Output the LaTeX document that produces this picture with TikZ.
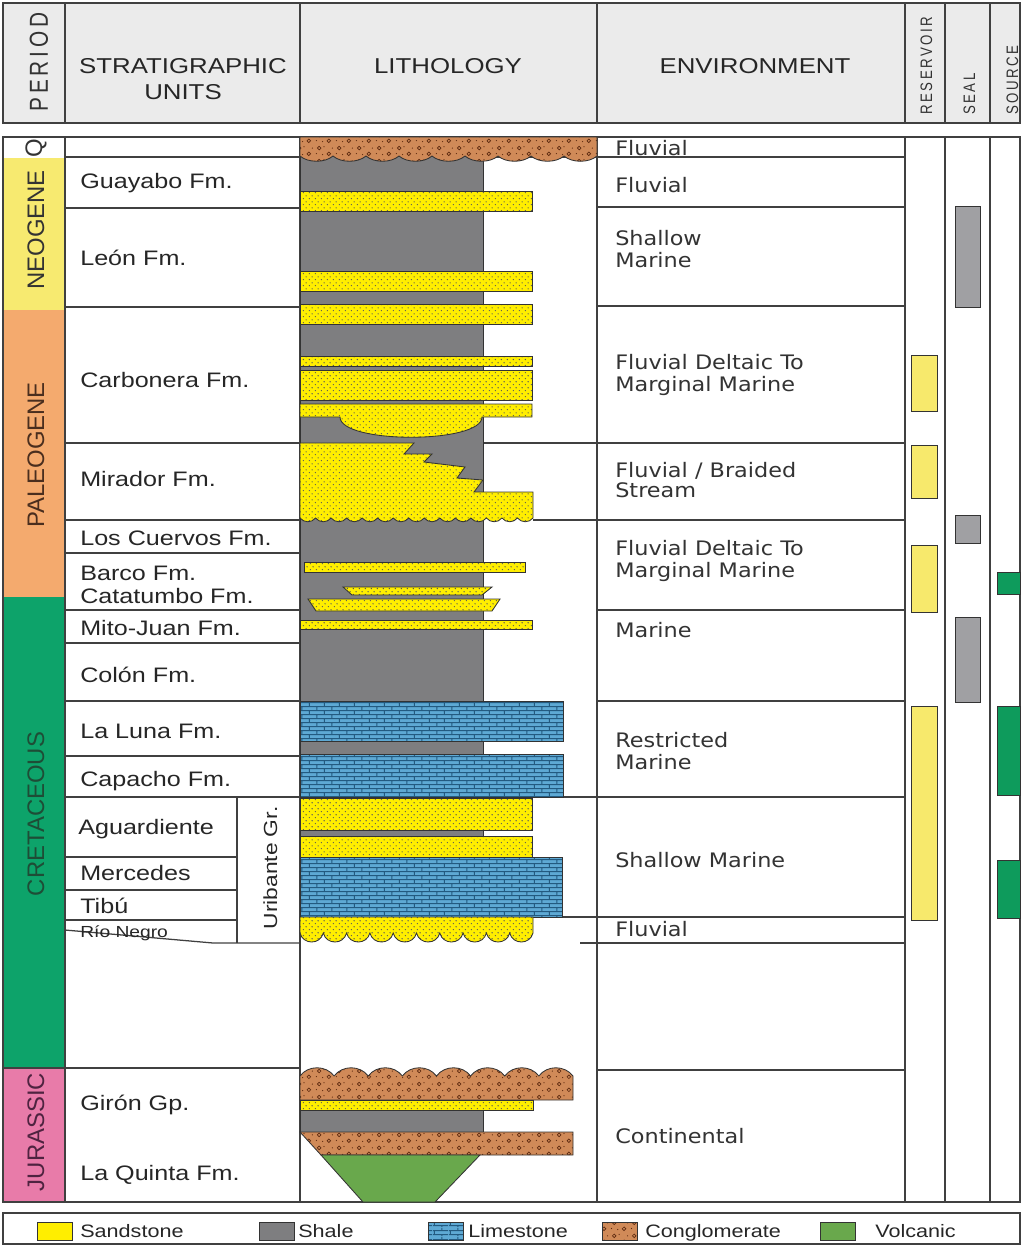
\documentclass[tikz,border=0pt]{standalone}
\usepackage{fontspec}
\setmainfont{Liberation Sans}
\newfontfamily\unitfont{Liberation Sans}[FakeStretch=1.2]
\newfontfamily\envfont{DejaVu Sans}[FakeStretch=1.12]
\newfontfamily\capfont{Liberation Sans}[FakeStretch=0.8,LetterSpace=15]
\usetikzlibrary{patterns.meta}

\definecolor{headgray}{HTML}{EBEBEB}
\definecolor{neoyellow}{HTML}{F7EA70}
\definecolor{paleorange}{HTML}{F4AA6E}
\definecolor{cretgreen}{HTML}{0DA36A}
\definecolor{jurpink}{HTML}{E87BA9}
\definecolor{paletext}{HTML}{4A2E1E}
\definecolor{cretext}{HTML}{1E4D36}
\definecolor{jurtext}{HTML}{4F2340}
\definecolor{sandyellow}{HTML}{FFEE00}
\definecolor{shalegray}{HTML}{7E7E80}
\definecolor{limeblue}{HTML}{5EA9D4}
\definecolor{limegrout}{HTML}{235A80}
\definecolor{conglbrown}{HTML}{D08A58}
\definecolor{conglink}{HTML}{5E2A10}
\definecolor{volcgreen}{HTML}{69A84C}
\definecolor{respale}{HTML}{F7E96C}
\definecolor{sealgray}{HTML}{A0A0A3}
\definecolor{srcgreen}{HTML}{0E9B5C}

\tikzdeclarepattern{
  name=sanddots,
  type=uncolored,
  bounding box={(0pt,0pt) and (4.4pt,4.4pt)},
  tile size={(4.4pt,4.4pt)},
  code={
    \fill (1.1pt,1.1pt) circle [radius=0.55pt];
    \fill (3.3pt,3.3pt) circle [radius=0.55pt];
  }
}
\tikzdeclarepattern{
  name=limebricks,
  type=uncolored,
  bounding box={(0pt,0pt) and (11pt,6pt)},
  tile size={(11pt,6pt)},
  code={
    \draw[line width=0.7pt] (0pt,1pt) -- (11pt,1pt) (0pt,4pt) -- (11pt,4pt)
      (1pt,1pt) -- (1pt,4pt) (6.5pt,4pt) -- (6.5pt,6pt) (6.5pt,0pt) -- (6.5pt,1pt);
  }
}
\tikzdeclarepattern{
  name=conglpebbles,
  type=uncolored,
  bounding box={(0pt,0pt) and (14pt,9pt)},
  tile size={(14pt,9pt)},
  code={
    \draw[line width=0.5pt] (3pt,6.5pt) circle [radius=1.3pt] (10pt,2.3pt) circle [radius=1.3pt];
    \fill (6.5pt,7.5pt) circle [radius=0.45pt] (1pt,2.5pt) circle [radius=0.45pt]
      (12.5pt,6.5pt) circle [radius=0.45pt] (5.5pt,1.8pt) circle [radius=0.45pt];
  }
}

\tikzset{
  frame/.style={draw=black!75, line width=0.9pt},
  bed/.style={draw=black!80, line width=0.6pt},
  sand/.style={bed, preaction={fill=sandyellow}, pattern=sanddots, pattern color=black!65},
  lime/.style={bed, preaction={fill=limeblue}, pattern=limebricks, pattern color=limegrout},
  congl/.style={bed, preaction={fill=conglbrown}, pattern=conglpebbles, pattern color=conglink},
  shale/.style={bed, fill=shalegray},
  volc/.style={bed, fill=volcgreen},
  headtext/.style={anchor=base, inner sep=0pt, text=black!85, font={\unitfont\fontsize{15.3pt}{18pt}\selectfont}},
  headcap/.style={rotate=90, anchor=base west, inner sep=0pt, text=black!80, font={\capfont\fontsize{11.8pt}{13pt}\selectfont}},
  period/.style={rotate=90, inner sep=0pt, text=black!80, font={\fontsize{17pt}{20pt}\selectfont}},
  unit/.style={anchor=base west, inner sep=0pt, text=black!85, font={\unitfont\fontsize{14.9pt}{17pt}\selectfont}},
  env/.style={anchor=base west, inner sep=0pt, text=black!80, font={\envfont\fontsize{14.2pt}{17pt}\selectfont}},
  legtext/.style={anchor=base west, inner sep=0pt, text=black!85, font={\unitfont\fontsize{12.8pt}{15pt}\selectfont}},
}

\begin{document}
\begin{tikzpicture}[x=0.025cm, y=-0.025cm]
\useasboundingbox (0,0) rectangle (1023,1245);

% header
\draw[frame, fill=headgray] (3,3) rectangle (1020,123);
\foreach \x in {65,300,597,905,945,990} \draw[frame] (\x,3) -- (\x,123);
\node[headcap, anchor=base, font={\capfont\fontsize{18.5pt}{20pt}\selectfont}] (hperiod) at (48,62) {PERIOD};
\node[headtext] (hstrat) at (183,73) {STRATIGRAPHIC};
\node[headtext] (hunits) at (183,99) {UNITS};
\node[headtext] (hlith) at (448,73) {LITHOLOGY};
\node[headtext] (henv) at (755,73) {ENVIRONMENT};
\node[headcap] (hres) at (932,115) {RESERVOIR};
\node[headcap] (hseal) at (975,115) {SEAL};
\node[headcap] (hsource) at (1018,115) {SOURCE};

% periods
\fill[neoyellow] (3,158) rectangle (65,310);
\fill[paleorange] (3,310) rectangle (65,597);
\fill[cretgreen] (3,597) rectangle (65,1068);
\fill[jurpink] (3,1068) rectangle (65,1202);

% grid of the body
\draw[frame] (3,137) rectangle (1020,1202);
\foreach \x in {65,300,597,905,945,990} \draw[frame] (\x,137) -- (\x,1202);
\foreach \y in {157,208,307,443,520,553,610,643,701,756,797} \draw[frame] (65,\y) -- (300,\y);
\foreach \y in {857,890,920} \draw[frame] (65,\y) -- (237,\y);
\draw[frame] (237,797) -- (237,943);
\draw[frame] (65,930) -- (213,943) -- (300,943);
\draw[frame] (3,1068) -- (300,1068);
\foreach \y in {157,207,306,443,520,610,701,797,917,943,1070} \draw[frame] (597,\y) -- (905,\y);
\draw[frame] (483,157) -- (597,157);
\draw[frame] (483,443) -- (597,443);
\draw[frame] (533,520) -- (597,520);
\draw[frame] (563,797) -- (597,797);
\draw[frame] (563,917) -- (597,917);
\draw[frame] (580,943) -- (597,943);

% lithology
\draw[shale] (300,156) rectangle (483,917);
\draw[congl] (300,137) -- (597,137) -- (597,156)
  \foreach \i in {0,...,8} { .. controls ({597-33*\i-8},163) and ({597-33*\i-25},163) .. ({597-33*\i-33},156) } -- cycle;
\draw[sand] (300,191) rectangle (532,211);
\draw[sand] (300,271) rectangle (532,291);
\draw[sand] (300,304) rectangle (532,324);
\draw[sand] (300,356) rectangle (532,366);
\draw[sand] (300,370) rectangle (532,400);
\draw[sand] (300,404) -- (532,404) -- (532,417) -- (482,417)
  .. controls (482,444) and (340,444) .. (340,417) -- (300,417) -- cycle;
\draw[sand] (300,443) -- (414,443) -- (404,454) -- (432,454) -- (424,462) -- (465,467)
  -- (457,478) -- (483,480) -- (474,492) -- (533,492) -- (533,518)
  \foreach \i in {0,...,14} { .. controls ({533-15.533*\i-4},523) and ({533-15.533*\i-11.5},523) .. ({533-15.533*(\i+1)},518) } -- cycle;
\draw[sand] (304,562) rectangle (525,572);
\draw[sand] (343,587) -- (492,587) -- (482,595) -- (352,595) -- cycle;
\draw[sand] (308,599) -- (500,599) -- (492,611) -- (316,611) -- cycle;
\draw[sand] (300,620) rectangle (532,629);
\draw[lime] (300,701) rectangle (563,741);
\draw[lime] (300,754) rectangle (563,797);
\draw[sand] (300,798) rectangle (532,830);
\draw[sand] (300,836) rectangle (532,857);
\draw[lime] (300,857) rectangle (562,917);
\draw[sand] (300,917) -- (533,917) -- (533,933)
  \foreach \i in {0,...,9} { .. controls ({533-23.3*\i-3},945) and ({533-23.3*\i-20.3},945) .. ({533-23.3*(\i+1)},933) } -- cycle;
\draw[congl] (300,1076)
  \foreach \i in {0,...,7} { .. controls ({300+34.125*\i+8},1065) and ({300+34.125*\i+26},1065) .. ({300+34.125*(\i+1)},1076) }
  -- (573,1100) -- (300,1100) -- cycle;
\draw[sand] (300,1100) rectangle (533,1110);
\draw[shale] (300,1110) rectangle (483,1132);
\draw[congl] (300,1132) -- (573,1132) -- (573,1155) -- (321,1155) -- cycle;
\draw[volc] (321,1155) -- (480,1155) -- (435,1202) -- (363,1202) -- cycle;

% reservoir, seal, source
\foreach \a/\b in {355/411,445/498,545/612,706/920} \draw[bed, fill=respale] (911,\a) rectangle (937,\b);
\foreach \a/\b in {206/307,515/543,617/702} \draw[bed, fill=sealgray] (955,\a) rectangle (980,\b);
\foreach \a/\b in {572/594,706/795,860/918} \draw[bed, fill=srcgreen] (997,\a) rectangle (1020,\b);

% period labels
\node[period] (q) at (36,148) {Q};
\node[period] (neogene) at (36,230) {NEOGENE};
\node[period, text=paletext] (paleogene) at (36,455) {PALEOGENE};
\node[period, text=cretext] (cretaceous) at (36,814) {CRETACEOUS};
\node[period, text=jurtext] (jurassic) at (36,1132) {JURASSIC};

% units
\node[unit] (guayabo) at (80,188) {Guayabo Fm.};
\node[unit] (leon) at (80,265) {León Fm.};
\node[unit] (carbonera) at (80,387) {Carbonera Fm.};
\node[unit] (mirador) at (80,486) {Mirador Fm.};
\node[unit] (cuervos) at (80,545) {Los Cuervos Fm.};
\node[unit] (barco) at (80,580) {Barco Fm.};
\node[unit] (catatumbo) at (80,603) {Catatumbo Fm.};
\node[unit] (mitojuan) at (80,635) {Mito-Juan Fm.};
\node[unit] (colon) at (80,682) {Colón Fm.};
\node[unit] (laluna) at (80,738) {La Luna Fm.};
\node[unit] (capacho) at (80,786) {Capacho Fm.};
\node[unit] (aguardiente) at (78,834) {Aguardiente};
\node[unit] (mercedes) at (80,880) {Mercedes};
\node[unit] (tibu) at (80,913) {Tibú};
\node[unit, font={\unitfont\fontsize{11.4pt}{13pt}\selectfont}] (rionegro) at (80,937) {Río Negro};
\node[unit, rotate=90, anchor=base, font={\unitfont\fontsize{13.5pt}{16pt}\selectfont}] (uribante) at (277,868) {Uribante Gr.};
\node[unit] (giron) at (80,1110) {Girón Gp.};
\node[unit] (laquinta) at (80,1180) {La Quinta Fm.};

% environments
\node[env] (env1) at (615,155) {Fluvial};
\node[env] (env2) at (615,192) {Fluvial};
\node[env] (env3a) at (615,245) {Shallow};
\node[env] (env3b) at (615,267) {Marine};
\node[env] (env4a) at (615,369) {Fluvial Deltaic To};
\node[env] (env4b) at (615,391) {Marginal Marine};
\node[env] (env5a) at (615,477) {Fluvial / Braided};
\node[env] (env5b) at (615,497) {Stream};
\node[env] (env6a) at (615,555) {Fluvial Deltaic To};
\node[env] (env6b) at (615,577) {Marginal Marine};
\node[env] (env7) at (615,637) {Marine};
\node[env] (env8a) at (615,747) {Restricted};
\node[env] (env8b) at (615,769) {Marine};
\node[env] (env9) at (615,867) {Shallow Marine};
\node[env] (env10) at (615,936) {Fluvial};
\node[env] (env11) at (615,1143) {Continental};

% legend
\draw[frame] (3,1213) rectangle (1020,1244);
\draw[bed, fill=sandyellow] (37,1222) rectangle (72,1240);
\draw[shale] (259,1222) rectangle (294,1240);
\draw[lime] (428,1222) rectangle (463,1240);
\draw[congl] (602,1222) rectangle (637,1240);
\draw[volc] (820,1222) rectangle (855,1240);
\node[legtext] (lsand) at (80,1237) {Sandstone};
\node[legtext] (lshale) at (298,1237) {Shale};
\node[legtext] (llime) at (468,1237) {Limestone};
\node[legtext] (lcongl) at (645,1237) {Conglomerate};
\node[legtext] (lvolc) at (875,1237) {Volcanic};
\end{tikzpicture}
\end{document}
